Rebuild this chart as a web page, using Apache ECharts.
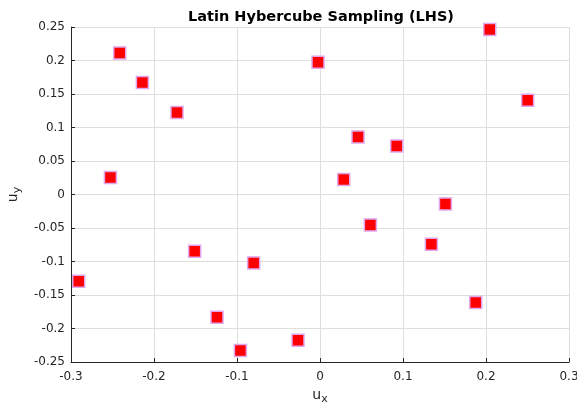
<!DOCTYPE html>
<html><head><meta charset="utf-8">
<script src="https://cdn.jsdelivr.net/npm/echarts@6/dist/echarts.min.js"></script>
<style>html,body{margin:0;padding:0;background:#fff}#c{width:577px;height:409px}</style>
</head><body><div id="c"></div>
<script>
const ux = [-0.2907,-0.2525,-0.2413,-0.2140,-0.1723,-0.1510,-0.0799,-0.1241,-0.0959,-0.0265,-0.0024,0.0458,0.0924,0.0286,0.0607,0.1511,0.1342,0.2045,0.2502,0.1876];
const uy = [-0.1294,0.0254,0.2113,0.1671,0.1224,-0.0846,-0.1021,-0.1831,-0.2328,-0.2175,0.1975,0.0860,0.0725,0.0224,-0.0454,-0.0140,-0.0742,0.2463,0.1407,-0.1612];
const titleText = 'Latin Hybercube Sampling (LHS)';
const pts = ux.map((x,i)=>[x,uy[i]]);
const chart = echarts.init(document.getElementById('c'));
const font = 'DejaVu Sans';
const fmt = v => { if (Math.abs(v) < 1e-9) return '0'; return String(parseFloat(v.toFixed(2))); };
chart.setOption({
  animation:false,
  title:{text:titleText,left:316,textAlign:'center',top:5,textStyle:{fontFamily:font,fontSize:14.5,fontWeight:'bold',color:'#000'}},
  grid:{left:71,right:8,top:27,bottom:47,containLabel:false,outerBoundsMode:'none'},
  xAxis:{type:'value',min:-0.3,max:0.3,interval:0.1,
    name:'{a|u}{b|x}',nameLocation:'middle',nameGap:22,
    nameTextStyle:{rich:{a:{fontFamily:font,fontSize:14,color:'#262626'},b:{fontFamily:font,fontSize:11,color:'#262626',padding:[9,0,0,0]}}},
    axisLine:{show:true,onZero:false,lineStyle:{color:'#262626',width:1}},
    axisTick:{show:true,inside:true,length:4,lineStyle:{color:'#262626'}},
    axisLabel:{fontFamily:font,fontSize:12,color:'#262626',margin:9,formatter:fmt,hideOverlap:false},
    splitLine:{show:true,lineStyle:{color:'#dedede',width:1}}},
  yAxis:{type:'value',min:-0.25,max:0.25,interval:0.05,
    name:'{a|u}{b|y}',nameLocation:'middle',nameGap:45,nameRotate:90,
    nameTextStyle:{rich:{a:{fontFamily:font,fontSize:14,color:'#262626'},b:{fontFamily:font,fontSize:11,color:'#262626',padding:[9,0,0,0]}}},
    axisLine:{show:true,onZero:false,lineStyle:{color:'#262626',width:1}},
    axisTick:{show:true,inside:true,length:4,lineStyle:{color:'#262626'}},
    axisLabel:{fontFamily:font,fontSize:12,color:'#262626',margin:6,formatter:fmt},
    splitLine:{show:true,lineStyle:{color:'#dedede',width:1}}},
  series:[{type:'scatter',data:pts,symbol:'rect',symbolSize:12,
    itemStyle:{color:'#ff0000',borderColor:'#e0a8ee',borderWidth:1.5,opacity:1}}]
});
</script></body></html>
